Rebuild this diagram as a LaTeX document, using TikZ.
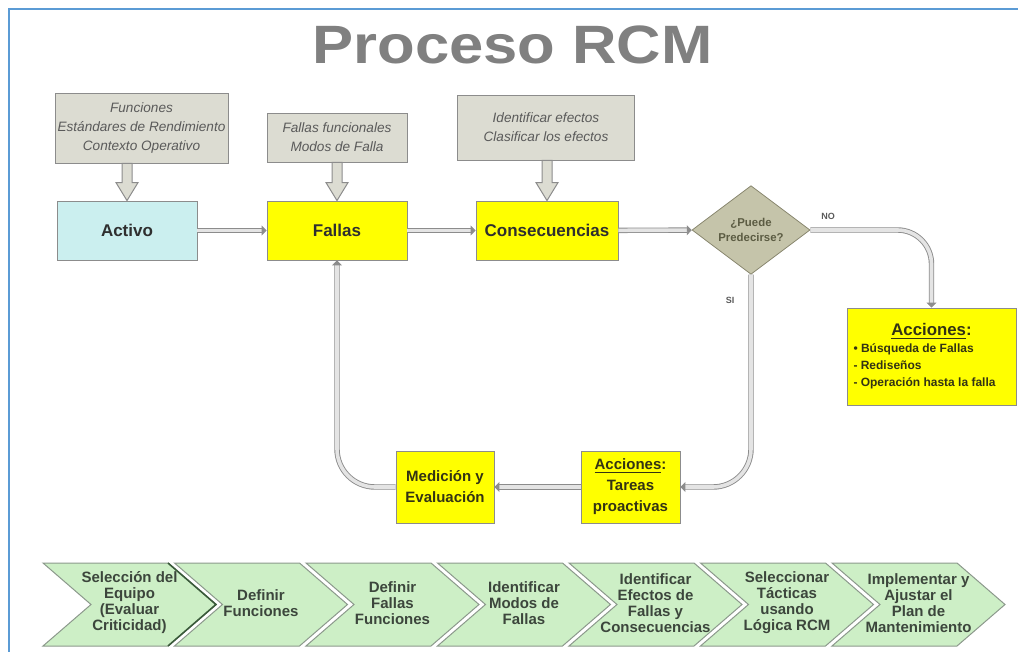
\documentclass[tikz,border=0pt]{standalone}
\usepackage{fontspec}
\setmainfont{Liberation Sans}
\usepackage{graphicx}
\usetikzlibrary{shapes.geometric,arrows.meta,calc}

\definecolor{frameblue}{HTML}{5B9BD5}
\definecolor{titlegray}{HTML}{808080}
\definecolor{boxline}{HTML}{8C8C8C}
\definecolor{boxgray}{HTML}{DCDCD2}
\definecolor{graytext}{HTML}{5A5A5A}
\definecolor{darktext}{HTML}{2F2F2F}
\definecolor{activocyan}{HTML}{CBEFEF}
\definecolor{yelfill}{HTML}{FFFF00}
\definecolor{yeltext}{HTML}{333314}
\definecolor{diafill}{HTML}{C5C4AA}
\definecolor{dialine}{HTML}{8A8870}
\definecolor{pipein}{HTML}{E4E4E4}
\definecolor{chevfill}{HTML}{CDEFC6}
\definecolor{chevline}{HTML}{8C998C}
\definecolor{chevdark}{HTML}{3A5A3A}
\definecolor{chevink}{HTML}{3C463C}

\begin{document}
\begin{tikzpicture}[x=0.5pt,y=-0.5pt,
  graybox/.style={draw=boxline,fill=boxgray,text=graytext,align=center,inner sep=0pt,
    font=\itshape\fontsize{6.8}{9.6}\selectfont},
  mainbox/.style={draw=boxline,text=darktext,inner sep=0pt,minimum height=29.5pt,
    font=\bfseries\fontsize{8.5}{10}\selectfont},
  yelbox/.style={draw=boxline,fill=yelfill,text=yeltext,align=center,inner sep=0pt,
    font=\bfseries\fontsize{7.5}{10.5}\selectfont},
  hollow/.style={draw=boxline,fill=boxgray,line width=0.5pt},
  pipe/.style={draw=boxline,line width=0.45pt,double=pipein,double distance=1.8pt,
    -{Triangle[length=2.5pt,width=5pt]}},
  chev/.style={draw=chevline,fill=chevfill,line width=0.5pt},
  chevtext/.style={text=chevink,align=center,inner sep=0pt,
    font=\bfseries\fontsize{7.5}{8}\selectfont},
  small/.style={text=graytext,inner sep=0pt,font=\bfseries\fontsize{4.5}{5}\selectfont}]
  \useasboundingbox (0,0) rectangle (1018,652);
  \draw[frameblue,line width=1pt] (1018,9) -- (9,9) -- (9,652);

  % title
  \node[anchor=base,text=titlegray,font=\bfseries\fontsize{27}{30}\selectfont] (title)
    at (512.5,64) {\scalebox{1.14}[1]{Proceso RCM}};

  % input boxes
  \node[graybox,minimum width=86.5pt,minimum height=35pt] (g1) at (141.5,128)
    {Funciones\\Estándares de Rendimiento\\Contexto Operativo};
  \node[graybox,minimum width=70pt,minimum height=24.5pt] (g2) at (337,137.5)
    {Fallas funcionales\\Modos de Falla};
  \node[graybox,minimum width=88.5pt,minimum height=32.5pt] (g3) at (546,127.5)
    {Identificar efectos\\Clasificar los efectos};

  % main row
  \node[mainbox,fill=activocyan,minimum width=70pt] (activo) at (127,230.5) {Activo};
  \node[mainbox,fill=yelfill,minimum width=70pt] (fallas) at (337,230.5) {Fallas};
  \node[mainbox,fill=yelfill,minimum width=71pt] (conse) at (547,230.5) {Consecuencias};
  \node[diamond,draw=dialine,fill=diafill,text=yeltext!80,align=center,inner sep=0pt,
    minimum width=59pt,minimum height=40pt,font=\bfseries\fontsize{5.7}{7.5}\selectfont]
    (pred) at (751,230) {¿Puede\\Predecirse?};

  \node[yelbox,minimum width=84.5pt,minimum height=48.5pt,text width=78pt,align=flush left,
    font=\bfseries\fontsize{6}{8.5}\selectfont] (acc2) at (931.5,356.5)
    {\centerline{\fontsize{8.4}{11}\selectfont\underline{Acciones}:}
     • Búsqueda de Fallas\\- Rediseños\\- Operación hasta la falla};
  \node[yelbox,minimum width=49pt,minimum height=36pt] (medic) at (445,487)
    {Medición y\\Evaluación};
  \node[yelbox,minimum width=49.5pt,minimum height=36pt] (tareas) at (630.5,487)
    {\underline{Acciones}:\\Tareas\\proactivas};

  % hollow arrows
  \foreach \a/\b in {g1/activo,g2/fallas,g3/conse}
    \draw[hollow] let \p1=(\a.south), \p2=(\b.north) in
      (\x2-2.5pt,\y1) -- (\x2-2.5pt,\y2+9pt) -- (\x2-5.5pt,\y2+9pt) -- (\x2,\y2)
      -- (\x2+5.5pt,\y2+9pt) -- (\x2+2.5pt,\y2+9pt) -- (\x2+2.5pt,\y1) -- cycle;

  % pipes
  \draw[pipe] (activo) -- (fallas);
  \draw[pipe] (fallas) -- (conse);
  \draw[pipe] (conse) -- (pred);
  \draw[pipe,rounded corners=17pt] (pred.east) -| (acc2.north);
  \draw[pipe,rounded corners=19pt] (pred.south) |- (tareas.east);
  \draw[pipe] (tareas) -- (medic);
  \draw[pipe,rounded corners=19pt] (medic.west) -| (fallas.south);
  \node[small] (no) at (828,216) {NO};
  \node[small] (si) at (730,300) {SI};

  % steps
  \foreach \i in {6,5,...,0}
    \draw[chev] ({43+131.5*\i},563) -- ++(125,0) -- ++(48,41.5) -- ++(-48,41.5)
      -- ++(-125,0) -- ++(48,-41.5) -- cycle;
  \draw[chevdark,line width=0.8pt] (168,563) -- (216,604.5) -- (168,646);
  \foreach \t [count=\i from 0] in {{Selección del\\Equipo\\(Evaluar\\Criticidad)},
      {Definir\\Funciones},{Definir\\Fallas\\Funciones},{Identificar\\Modos de\\Fallas},
      {Identificar\\Efectos de\\Fallas y\\Consecuencias},{Seleccionar\\Tácticas\\usando\\Lógica RCM},
      {Implementar y\\Ajustar el\\Plan de\\Mantenimiento}}
    \node[chevtext] (s\i) at ({43+131.5*\i+86.5},603) {\t};
\end{tikzpicture}
\end{document}
